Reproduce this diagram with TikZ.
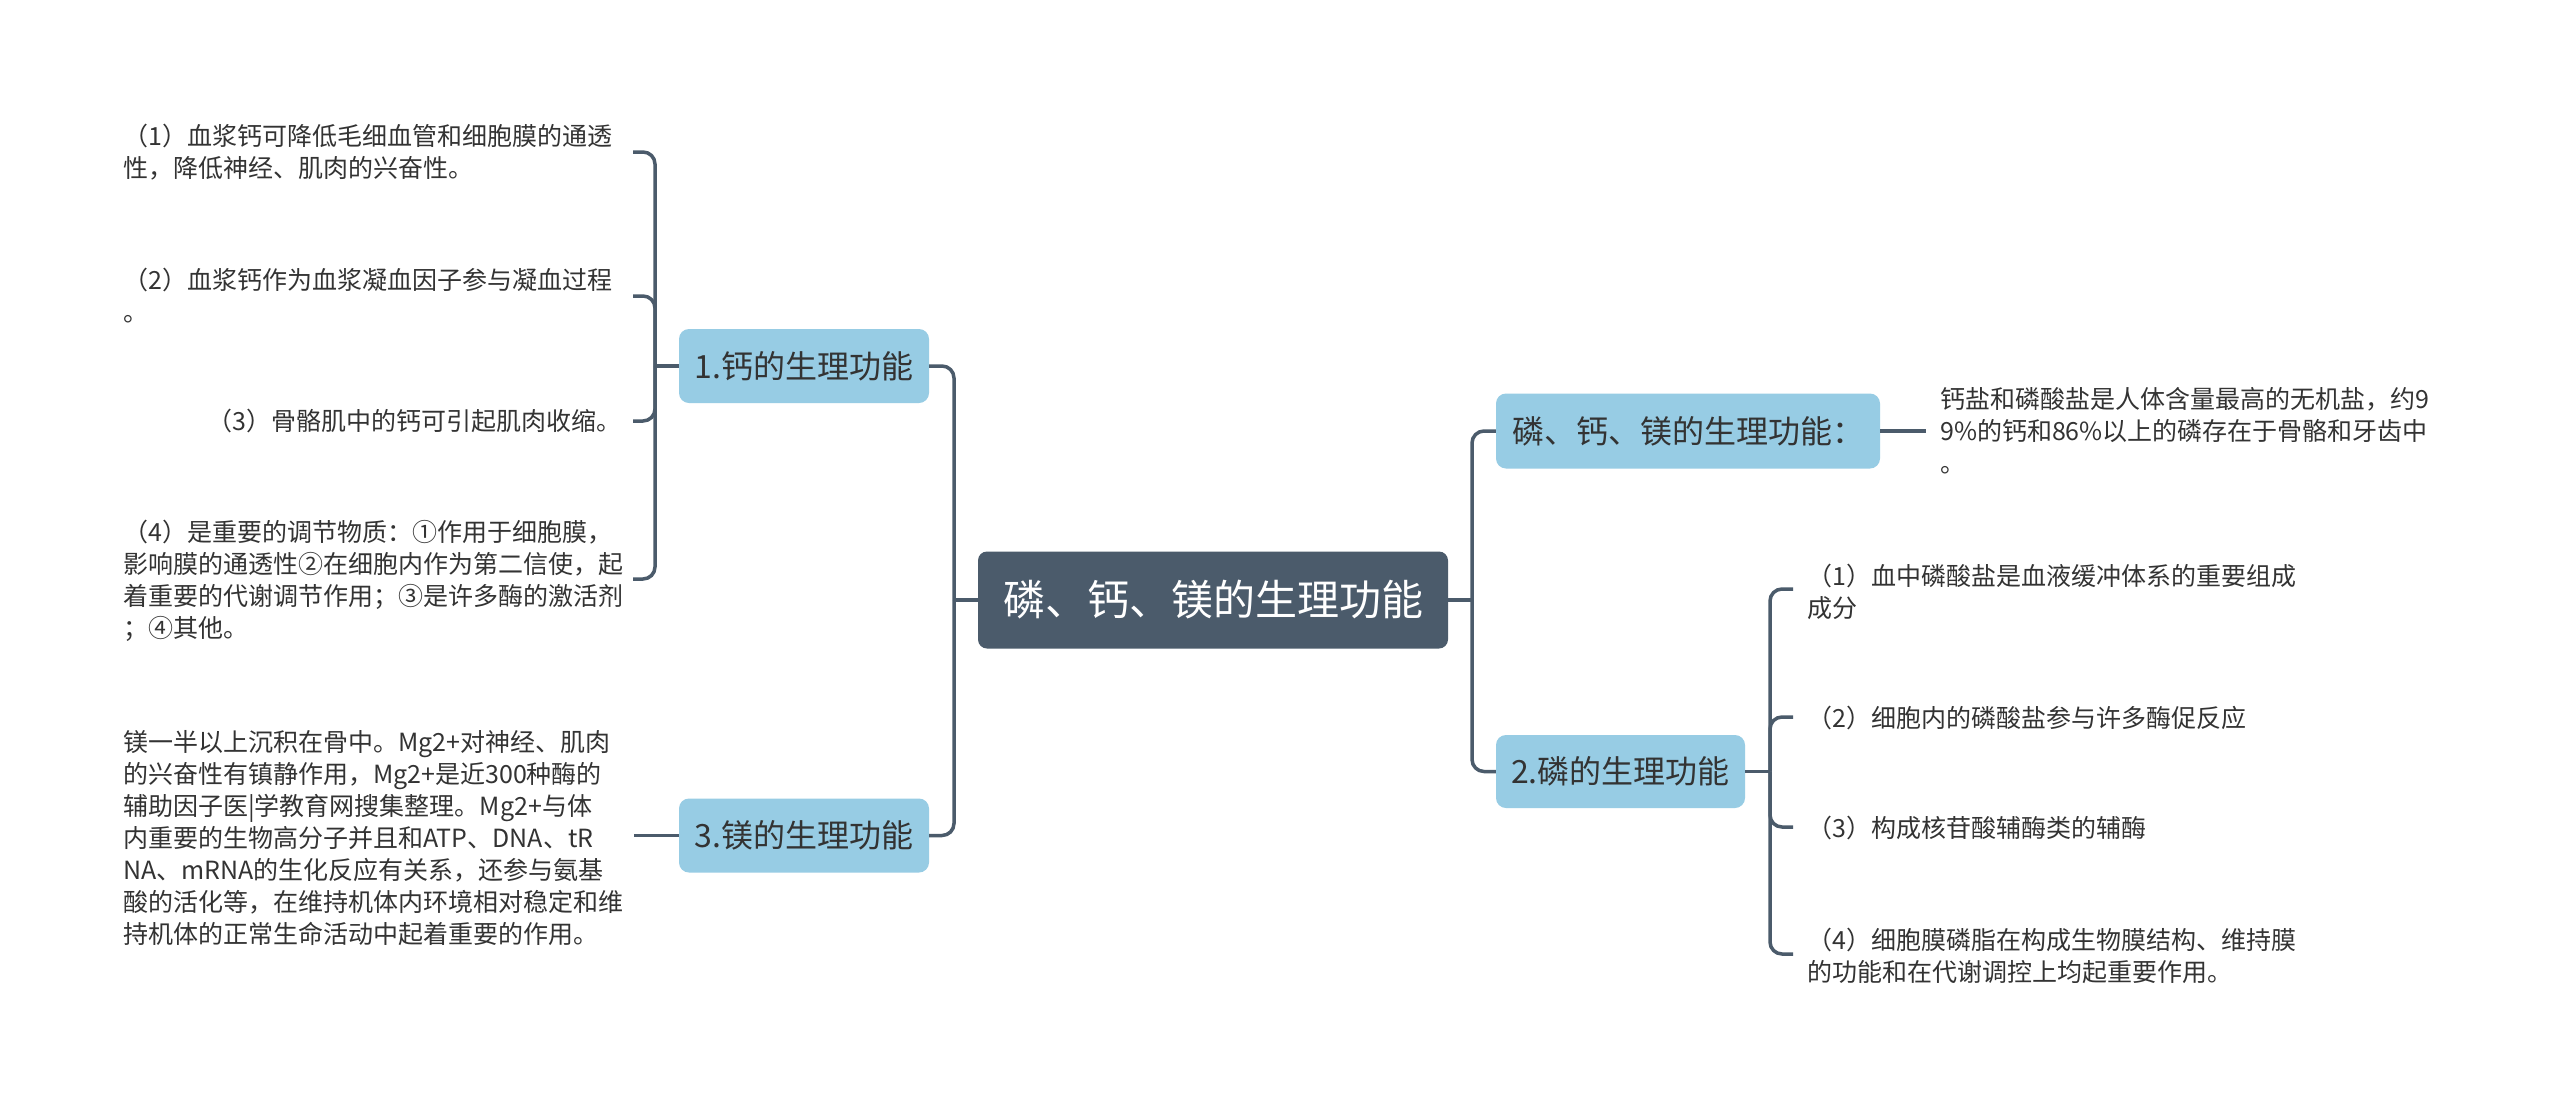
\documentclass[tikz,border=0pt]{standalone}
\usepackage{fontspec}
\setmainfont{Noto Sans CJK SC}
\usetikzlibrary{calc}
\definecolor{rootfill}{HTML}{4B5B6B}
\definecolor{subfill}{HTML}{97CCE4}
\definecolor{linec}{HTML}{4B5B6B}
\definecolor{txt}{HTML}{333333}
\begin{document}
\begin{tikzpicture}[x=1pt,y=-1pt,
 conn/.style={draw=linec,line width=3.5pt,rounded corners=12pt},
 rootbox/.style={fill=rootfill,rounded corners=9pt,text=white,font=\fontsize{42}{50}\selectfont,inner sep=0pt,minimum width=470pt,minimum height=97pt},
 subbox/.style={fill=subfill,rounded corners=10pt,text=txt,font=\fontsize{32}{38}\selectfont,inner sep=0pt,minimum height=74pt},
 leaf/.style={text=txt,font=\fontsize{25}{32}\selectfont,inner sep=0pt,align=left},
]
\fill[white] (0,0) rectangle (2560,1106);
\useasboundingbox (0,0) rectangle (2560,1106);

% main nodes
\node[rootbox] (root) at (1213,600) {磷、钙、镁的生理功能};
\node[subbox,minimum width=250pt] (n1) at (804,366) {1.钙的生理功能};
\node[subbox,minimum width=250pt] (n3) at (804,835.5) {3.镁的生理功能};
\node[subbox,minimum width=384pt,minimum height=75pt] (r1) at (1688,431) {磷、钙、镁的生理功能：};
\node[subbox,minimum width=249pt,minimum height=73pt] (r2) at (1620.5,771.5) {2.磷的生理功能};

% left leaves (calcium)
\node[leaf,anchor=west] (l1) at (123,152.5) {（1）血浆钙可降低毛细血管和细胞膜的通透\\性，降低神经、肌肉的兴奋性。};
\node[leaf,anchor=west] (l2) at (123,296) {（2）血浆钙作为血浆凝血因子参与凝血过程\\。};
\node[leaf,anchor=east] (l3) at (622,421) {（3）骨骼肌中的钙可引起肌肉收缩。};
\node[leaf,anchor=west] (l4) at (123,581) {（4）是重要的调节物质：①作用于细胞膜，\\影响膜的通透性②在细胞内作为第二信使，起\\着重要的代谢调节作用；③是许多酶的激活剂\\；④其他。};

% magnesium leaf
\node[leaf,anchor=west] (mg) at (123,838) {镁一半以上沉积在骨中。Mg2+对神经、肌肉\\的兴奋性有镇静作用，Mg2+是近300种酶的\\辅助因子医|学教育网搜集整理。Mg2+与体\\内重要的生物高分子并且和ATP、DNA、tR\\NA、mRNA的生化反应有关系，还参与氨基\\酸的活化等，在维持机体内环境相对稳定和维\\持机体的正常生命活动中起着重要的作用。};

% right leaves
\node[leaf,anchor=west] (rt) at (1940,431) {钙盐和磷酸盐是人体含量最高的无机盐，约9\\9\%的钙和86\%以上的磷存在于骨骼和牙齿中\\。};
\node[leaf,anchor=west] (p1) at (1807,592) {（1）血中磷酸盐是血液缓冲体系的重要组成\\成分};
\node[leaf,anchor=west] (p2) at (1807,718) {（2）细胞内的磷酸盐参与许多酶促反应};
\node[leaf,anchor=west] (p3) at (1807,828) {（3）构成核苷酸辅酶类的辅酶};
\node[leaf,anchor=west] (p4) at (1807,956) {（4）细胞膜磷脂在构成生物膜结构、维持膜\\的功能和在代谢调控上均起重要作用。};

% junctions and stub ends
\coordinate (jl) at (954,600);
\coordinate (jr) at (1472,600);
\coordinate (j1) at (655,366);
\coordinate (s1) at (633,152);
\coordinate (s2) at (633,296);
\coordinate (s3) at (633,421);
\coordinate (s4) at (633,579);
\coordinate (ms) at (634,835.5);
\coordinate (j2) at (1770,771.5);
\coordinate (q1) at (1793,589);
\coordinate (q2) at (1793,717);
\coordinate (q3) at (1793,827);
\coordinate (q4) at (1793,954);

% connectors
\draw[conn] (root.west) -- (jl);
\draw[conn] (jl) |- (n1.east);
\draw[conn] (jl) |- (n3.east);
\draw[conn] (root.east) -- (jr);
\draw[conn] (jr) |- (r1.west);
\draw[conn] (jr) |- (r2.west);

\draw[conn] (n1.west) -- (j1);
\draw[conn] (j1) |- (s1);
\draw[conn] (j1) |- (s2);
\draw[conn] (j1) |- (s3);
\draw[conn] (j1) |- (s4);

\draw[conn] (n3.west) -- (ms);

\draw[conn,shorten >=14pt] (r1.east) -- (rt.west);

\draw[conn] (r2.east) -- (j2);
\draw[conn] (j2) |- (q1);
\draw[conn] (j2) |- (q2);
\draw[conn] (j2) |- (q3);
\draw[conn] (j2) |- (q4);
\end{tikzpicture}
\end{document}
